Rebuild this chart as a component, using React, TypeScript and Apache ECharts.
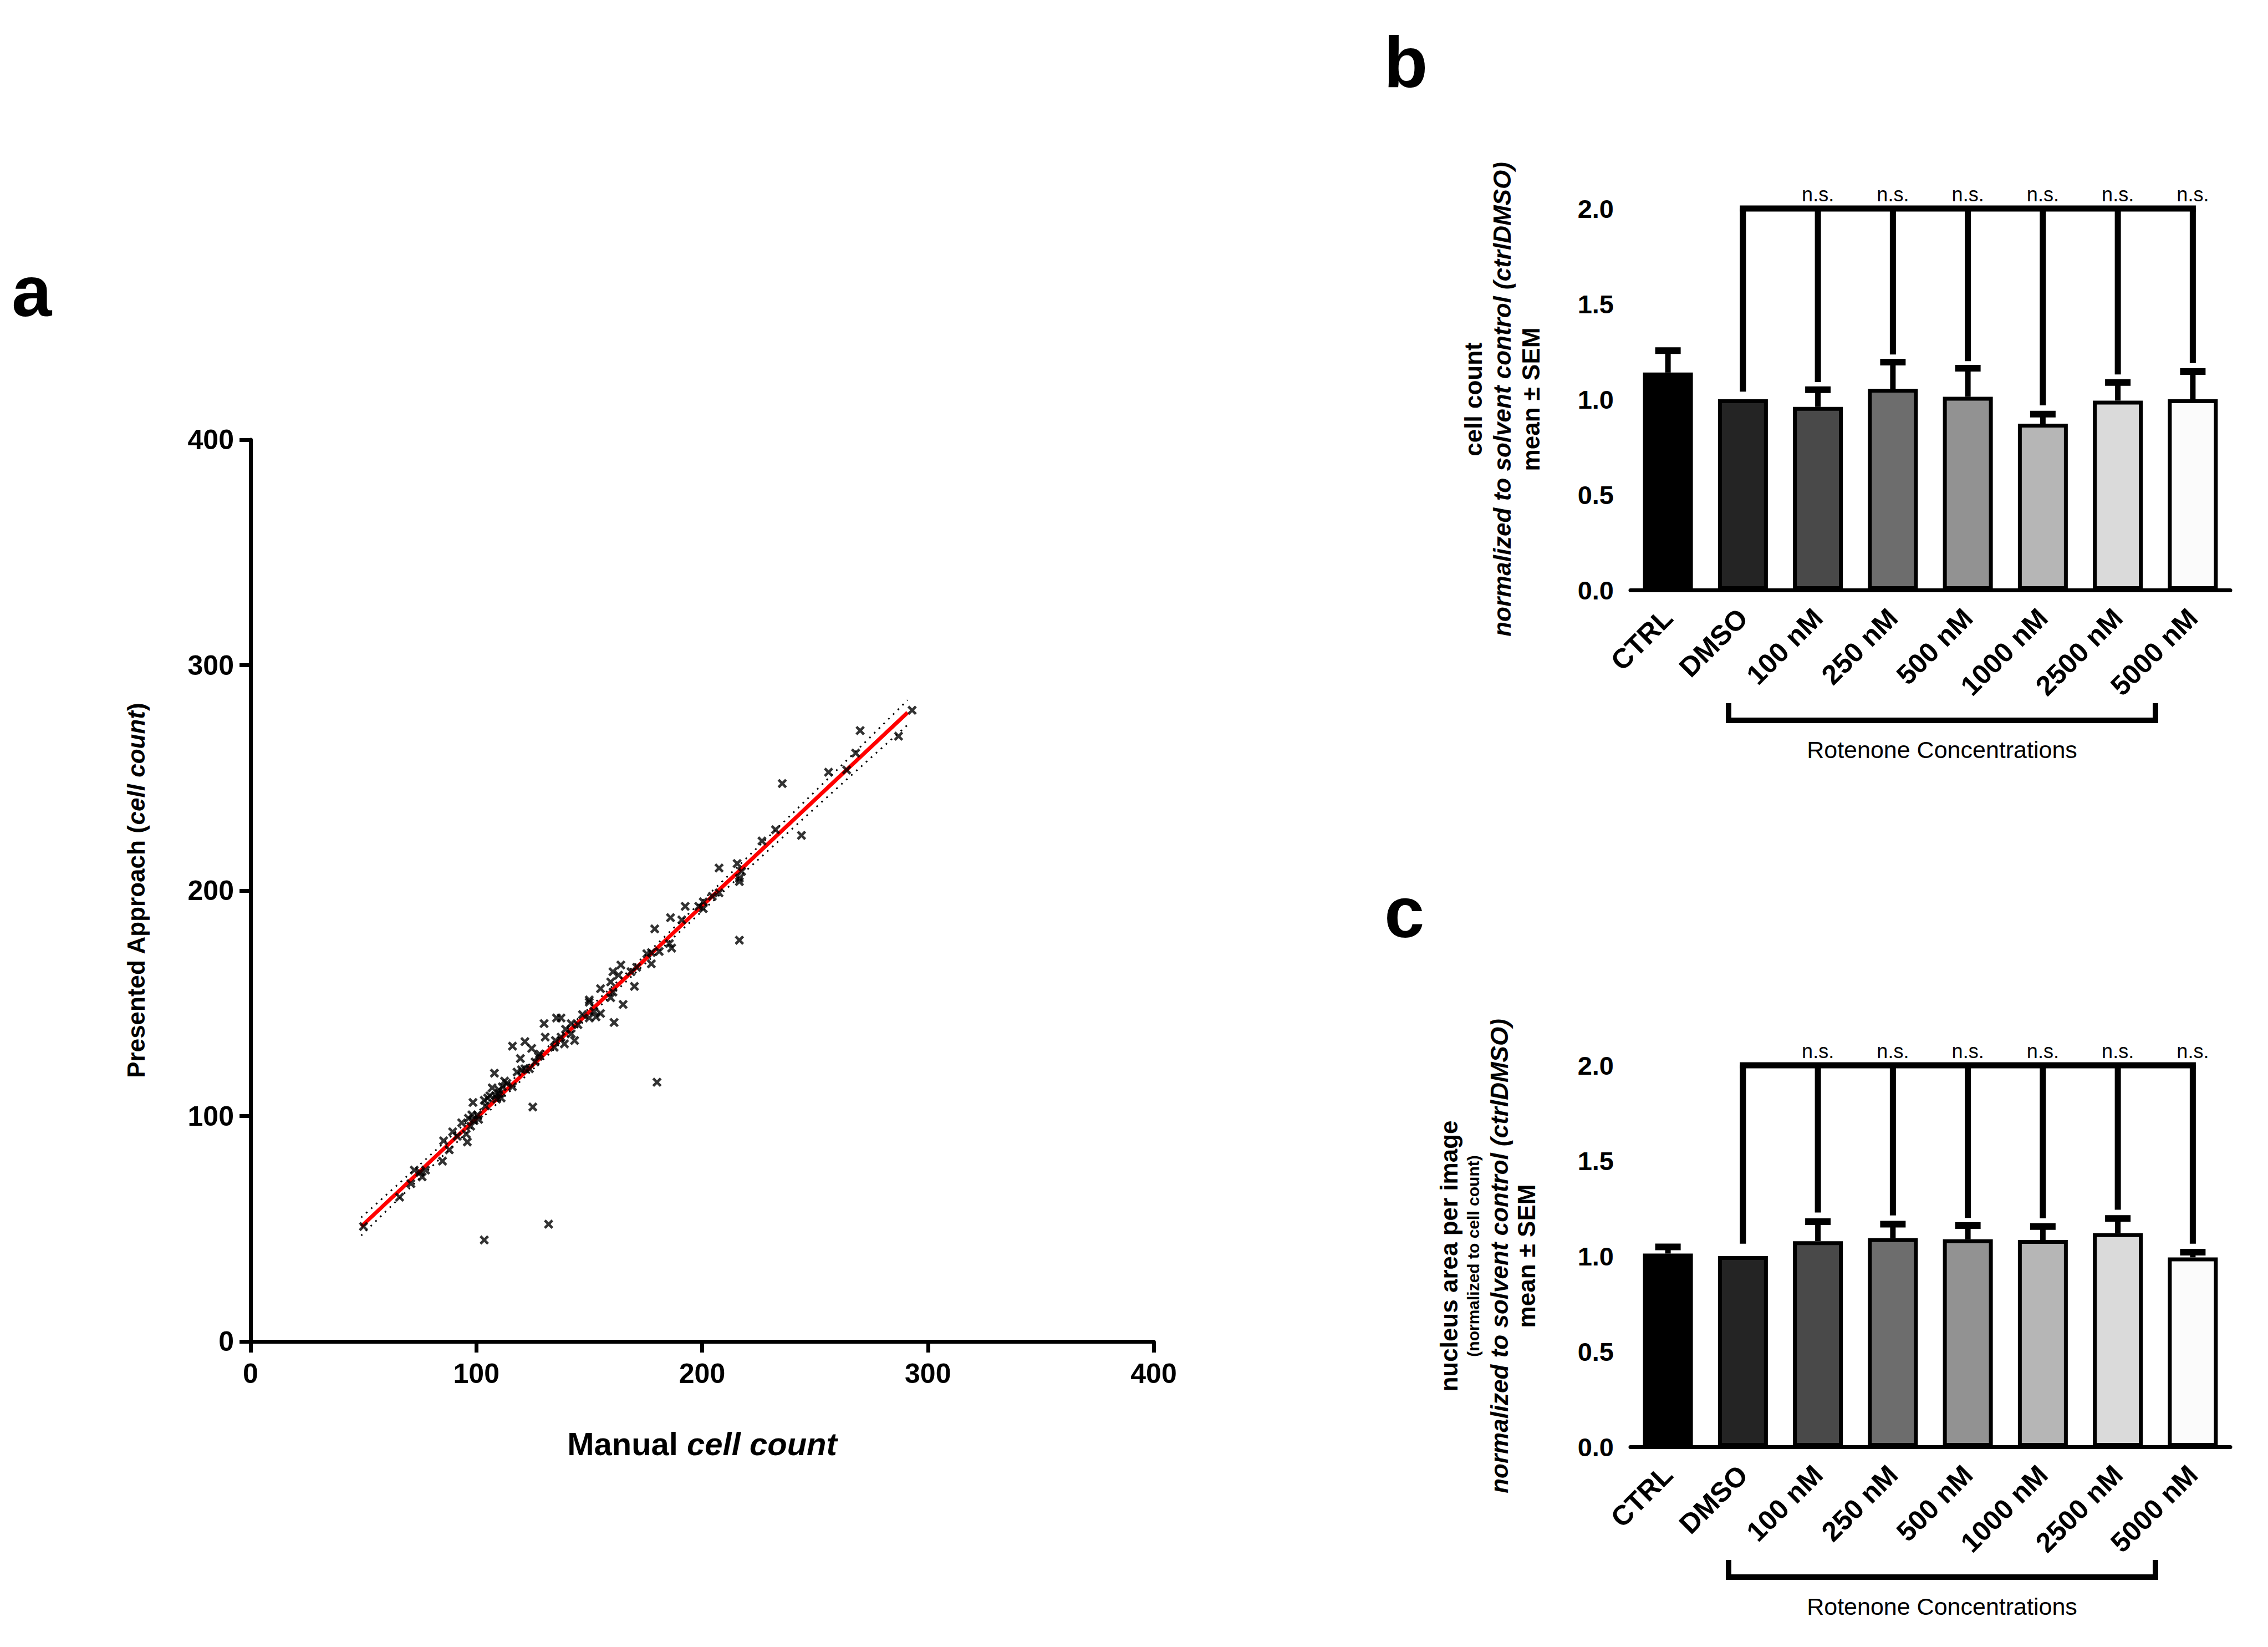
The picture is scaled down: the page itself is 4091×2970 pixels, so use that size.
import React, { useEffect, useRef } from 'react';
import * as echarts from 'echarts';

const FONT = '"Liberation Sans", Arial, Helvetica, sans-serif';

// panel a: manual vs presented cell counts
const manualCount = [
  50, 66, 71, 72.5, 75, 76, 77.5, 85, 85.5, 88, 89.5, 91.5, 93.5, 96, 95.5, 96.5, 98, 98.5, 99, 101,
  103.5, 103.5, 104, 105, 107, 108, 108.5, 110, 110, 111.5, 112.5, 111, 116, 116, 118, 119.5, 120, 121.5, 121.5, 123.5,
  124.5, 125, 126, 127.5, 128, 130, 130.5, 132, 134.5, 135.5, 135, 137.5, 137.5, 139, 139.5, 142, 142, 100.5, 97.5, 113.5,
  106, 109, 293, 270, 287, 268, 264, 256, 235.5, 244, 232.5, 226.5, 215.5, 217.5, 216.5, 216.5, 207.5, 216.5, 207.5, 204.5,
  200.5, 198.5, 200.5, 192.5, 186, 191, 179, 185.5, 186.5, 177.5, 175.5, 177.5, 181, 171, 170, 168.5, 164, 163, 160.5, 159.5,
  160.5, 159.5, 165, 161, 155, 150, 150, 147, 152, 155, 153, 150, 145, 143.5, 180,
];
const approachCount = [
  51, 64, 70, 76, 75, 73, 76, 80, 89, 85, 93, 91, 97, 88.5, 92, 99, 100.5, 106, 98, 98.5,
  45, 107, 104.5, 108, 112.5, 119, 109, 110, 111.5, 113, 115.5, 108, 113, 131, 119.5, 125.5, 120.5, 133, 121, 121,
  130, 104, 124, 126.5, 127.5, 141, 135, 52, 130.5, 143.5, 133.5, 135, 143.5, 132, 138.5, 141, 136.5, 100.5, 95.5, 114.5,
  109, 107.5, 280, 271, 268.5, 261, 253.5, 252.5, 247.5, 224.5, 227, 222, 212, 208.5, 205.5, 204, 210, 178, 199, 197.5,
  195, 193, 192, 193, 188, 187, 183, 176.5, 174.5, 172.5, 172, 167.5, 173, 166, 157.5, 164, 167, 162.5, 164, 159.5,
  155, 152.5, 149.5, 141.5, 156.5, 151.5, 150.5, 145, 146.5, 145.5, 144, 143.5, 140.5, 133.5, 115,
];
const fitX = [49, 291];
const fitY = [51, 279];
const bandX = [49, 100, 150, 200, 250, 291];
const bandUpper = [55, 101.3, 147.9, 195.5, 244, 284.5];
const bandLower = [47, 96.7, 144.3, 190.9, 236.6, 273.5];

// panels b and c
const conditions = ['CTRL', 'DMSO', '100 nM', '250 nM', '500 nM', '1000 nM', '2500 nM', '5000 nM'];
const barGreys = ['#000000', '#242424', '#494949', '#6d6d6d', '#929292', '#b6b6b6', '#dadada', '#fbfbfb'];
const significance = ['', '', 'n.s.', 'n.s.', 'n.s.', 'n.s.', 'n.s.', 'n.s.'];
const cellCountMean = [1.14, 1.0, 0.96, 1.055, 1.013, 0.872, 0.993, 1.0];
const cellCountSem = [0.115, 0, 0.09, 0.14, 0.15, 0.05, 0.095, 0.145];
const cellCountBracketEnd = [null, 1.04, 1.09, 1.235, 1.2, 0.968, 1.13, 1.19];
const nucleusMean = [1.013, 1.0, 1.078, 1.094, 1.088, 1.084, 1.12, 0.993];
const nucleusSem = [0.035, 0, 0.102, 0.073, 0.072, 0.071, 0.077, 0.027];
const nucleusBracketEnd = [null, 1.065, 1.228, 1.213, 1.2, 1.198, 1.243, 1.065];
const ratioTicks = [0, 0.5, 1, 1.5, 2];

const crossSymbol = 'path://M0,2L2,0L5,3L8,0L10,2L7,5L10,8L8,10L5,7L2,10L0,8L3,5Z';

const axisLineStyle = { lineStyle: { color: '#000', width: 7 } };
const axisTickStyle = { length: 20, lineStyle: { color: '#000', width: 7 } };

const errorBars = (params: any, api: any) => {
  const sem = api.value(2);
  if (!sem) return;
  const idx = api.value(0);
  const mean = api.value(1);
  const base = api.coord([idx, mean]);
  const top = api.coord([idx, mean + sem]);
  return {
    type: 'group',
    children: [
      { type: 'line', shape: { x1: base[0], y1: base[1], x2: top[0], y2: top[1] }, style: { stroke: '#000', lineWidth: 10 } },
      { type: 'line', shape: { x1: top[0] - 23, y1: top[1], x2: top[0] + 23, y2: top[1] }, style: { stroke: '#000', lineWidth: 12 } },
    ],
  };
};

const makeBracket = (ends: (number | null)[]) => {
  const items = ends
    .map((e, i) => (e == null ? null : [i, e, significance[i]]))
    .filter((d) => d != null);
  const first = items[0][0] as number;
  const last = items[items.length - 1][0] as number;
  const renderItem = (params: any, api: any) => {
    const idx = api.value(0);
    const top = api.coord([idx, 2]);
    const end = api.coord([idx, api.value(1)]);
    const children: any[] = [
      { type: 'line', shape: { x1: top[0], y1: top[1], x2: end[0], y2: end[1] }, style: { stroke: '#000', lineWidth: 11 } },
    ];
    if (params.dataIndex === 0) {
      const a = api.coord([first, 2]);
      const b = api.coord([last, 2]);
      children.push({
        type: 'line',
        shape: { x1: a[0] - 5.5, y1: a[1], x2: b[0] + 5.5, y2: b[1] },
        style: { stroke: '#000', lineWidth: 11 },
      });
    }
    const label = significance[idx];
    if (label) {
      children.push({
        type: 'text',
        x: top[0],
        y: top[1] - 26,
        style: { text: label, fill: '#000', fontSize: 36, fontFamily: FONT, align: 'center', verticalAlign: 'middle' },
      });
    }
    return { type: 'group', children };
  };
  return { items, renderItem };
};

const App = () => {
  const chartRef = useRef<HTMLDivElement>(null);

  useEffect(() => {
    const chart = echarts.init(chartRef.current, null, { renderer: 'svg' });

    const bracketB = makeBracket(cellCountBracketEnd);
    const bracketC = makeBracket(nucleusBracketEnd);

    const scatterAxis = (name: string, isY: boolean) => ({
      type: 'value',
      gridIndex: 0,
      min: 0,
      max: 400,
      interval: 100,
      name,
      nameLocation: 'middle',
      nameRotate: isY ? 90 : 0,
      nameGap: isY ? 182 : 154,
      nameTextStyle: {
        rich: isY
          ? {
              b: { fontSize: 44, lineHeight: 50, fontWeight: 'bold', fontFamily: FONT, color: '#000' },
              i: { fontSize: 44, lineHeight: 50, fontWeight: 'bold', fontStyle: 'italic', fontFamily: FONT, color: '#000' },
            }
          : {
              b: { fontSize: 58, lineHeight: 60, fontWeight: 'bold', fontFamily: FONT, color: '#000' },
              i: { fontSize: 58, lineHeight: 60, fontWeight: 'bold', fontStyle: 'italic', fontFamily: FONT, color: '#000' },
            },
      },
      axisLine: { ...axisLineStyle, onZero: false },
      axisTick: axisTickStyle,
      axisLabel: { color: '#000', fontFamily: FONT, fontWeight: 'bold', fontSize: 50, margin: isY ? 30 : 33 },
      splitLine: { show: false },
    });

    const catAxis = (gridIndex: number) => ({
      type: 'category',
      gridIndex,
      data: conditions,
      axisLine: axisLineStyle,
      axisTick: { ...axisTickStyle, alignWithLabel: true, interval: 0 },
      axisLabel: { color: '#000', fontFamily: FONT, fontWeight: 'bold', fontSize: 50, rotate: 45, interval: 0, margin: 42 },
    });

    const ratioAxis = (gridIndex: number, name: string, rich: any, nameGap: number) => ({
      type: 'value',
      gridIndex,
      min: ratioTicks[0],
      max: ratioTicks[ratioTicks.length - 1],
      interval: 0.5,
      name,
      nameLocation: 'middle',
      nameRotate: 90,
      nameGap,
      nameTextStyle: { rich },
      axisLine: { ...axisLineStyle, onZero: false },
      axisTick: axisTickStyle,
      axisLabel: {
        color: '#000',
        fontFamily: FONT,
        fontWeight: 'bold',
        fontSize: 47,
        margin: 30,
        formatter: (v: number) => v.toFixed(1),
      },
      splitLine: { show: false },
    });

    const titleRichB = {
      t: { fontSize: 44, lineHeight: 52, fontWeight: 'bold', fontFamily: FONT, color: '#000' },
      i: { fontSize: 44, lineHeight: 52, fontWeight: 'bold', fontStyle: 'italic', fontFamily: FONT, color: '#000' },
    };
    const titleRichC = {
      t: { fontSize: 44, lineHeight: 44, fontWeight: 'bold', fontFamily: FONT, color: '#000' },
      s: { fontSize: 30, lineHeight: 44, fontWeight: 'bold', fontFamily: FONT, color: '#000' },
      i: { fontSize: 44, lineHeight: 50, fontWeight: 'bold', fontStyle: 'italic', fontFamily: FONT, color: '#000' },
      m: { fontSize: 44, lineHeight: 48, fontWeight: 'bold', fontFamily: FONT, color: '#000' },
    };

    const barSeries = (idx: number, means: number[]) => ({
      type: 'bar',
      xAxisIndex: idx,
      yAxisIndex: idx,
      barWidth: 90,
      itemStyle: { borderColor: '#000', borderWidth: 7 },
      data: means.map((v, i) => ({ value: v, itemStyle: { color: barGreys[i] } })),
      z: 2,
    });

    const errorSeries = (idx: number, means: number[], sems: number[]) => ({
      type: 'custom',
      xAxisIndex: idx,
      yAxisIndex: idx,
      renderItem: errorBars,
      encode: { x: 0, y: 1 },
      data: means.map((m, i) => [i, m, sems[i]]),
      z: 3,
    });

    const bracketSeries = (idx: number, br: any) => ({
      type: 'custom',
      xAxisIndex: idx,
      yAxisIndex: idx,
      renderItem: br.renderItem,
      encode: { x: 0, y: 1 },
      data: br.items,
      z: 3,
    });

    const letter = (t: string, x: number, y: number) => ({
      type: 'text',
      x,
      y,
      style: { text: t, fill: '#000', font: `bold 130px ${FONT}`, textAlign: 'left', textVerticalAlign: 'middle' },
    });

    const underBracket = (y: number) => ({
      type: 'polyline',
      shape: { points: [[3118, y - 31], [3118, y], [3888, y], [3888, y - 31]] },
      style: { stroke: '#000', lineWidth: 10, fill: null },
    });

    const underText = (y: number) => ({
      type: 'text',
      x: 3503,
      y,
      style: {
        text: 'Rotenone Concentrations',
        fill: '#000',
        font: `43px ${FONT}`,
        textAlign: 'center',
        textVerticalAlign: 'middle',
      },
    });

    const options = {
      animation: false,
      backgroundColor: '#fff',
      grid: [
        { left: 452, top: 793, width: 1629, height: 1626 },
        { left: 2941, top: 376, width: 1082, height: 688 },
        { left: 2941, top: 1921, width: 1082, height: 688 },
      ],
      xAxis: [scatterAxis('{b|Manual }{i|cell count}', false), catAxis(1), catAxis(2)],
      yAxis: [
        scatterAxis('{b|Presented Approach (}{i|cell count}{b|)}', true),
        ratioAxis(1, '{t|cell count}\n{i|normalized to solvent control (ctrlDMSO)}\n{t|mean ± SEM}', titleRichB, 154),
        ratioAxis(
          2,
          '{t|nucleus area per image}\n{s|(normalized to cell count)}\n{i|normalized to solvent control (ctrlDMSO)}\n{m|mean ± SEM}',
          titleRichC,
          164
        ),
      ],
      graphic: [
        letter('a', 21, 525),
        letter('b', 2496, 112),
        letter('c', 2497, 1645),
        underBracket(1299),
        underText(1352),
        underBracket(2844),
        underText(2897),
      ],
      series: [
        {
          type: 'line',
          xAxisIndex: 0,
          yAxisIndex: 0,
          smooth: true,
          symbol: 'none',
          data: bandX.map((x, i) => [x, bandUpper[i]]),
          lineStyle: { color: '#000', width: 3, type: [3, 9] },
          z: 1,
        },
        {
          type: 'line',
          xAxisIndex: 0,
          yAxisIndex: 0,
          smooth: true,
          symbol: 'none',
          data: bandX.map((x, i) => [x, bandLower[i]]),
          lineStyle: { color: '#000', width: 3, type: [3, 9] },
          z: 1,
        },
        {
          type: 'line',
          xAxisIndex: 0,
          yAxisIndex: 0,
          symbol: 'none',
          data: fitX.map((x, i) => [x, fitY[i]]),
          lineStyle: { color: '#ff0000', width: 7 },
          z: 2,
        },
        {
          type: 'scatter',
          xAxisIndex: 0,
          yAxisIndex: 0,
          symbol: crossSymbol,
          symbolSize: 17,
          itemStyle: { color: '#000' },
          data: manualCount.map((x, i) => [x, approachCount[i]]),
          z: 3,
        },
        barSeries(1, cellCountMean),
        errorSeries(1, cellCountMean, cellCountSem),
        bracketSeries(1, bracketB),
        barSeries(2, nucleusMean),
        errorSeries(2, nucleusMean, nucleusSem),
        bracketSeries(2, bracketC),
      ],
    };

    chart.setOption(options);

    return () => {
      chart.dispose();
    };
  }, []);

  return (
    <div
      ref={chartRef}
      style={{ position: 'absolute', left: 0, top: 0, width: '4091px', height: '2970px', background: '#fff' }}
    ></div>
  );
};

export default App;
